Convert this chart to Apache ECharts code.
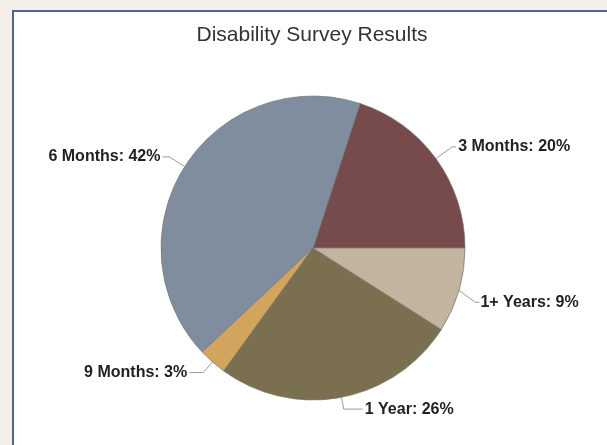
<!DOCTYPE html>
<html>
<head>
<meta charset="utf-8">
<script src="https://cdn.jsdelivr.net/npm/echarts@6/dist/echarts.min.js"></script>
<style>
  html, body { margin: 0; padding: 0; background: #f3f0ec; }
  #chart { width: 607px; height: 445px; }
</style>
</head>
<body>
<div id="chart"></div>
<script>
const CATEGORIES = ['3 Months', '6 Months', '9 Months', '1 Year', '1+ Years']
const PERCENTS = [20, 42, 3, 26, 9]
const SLICE_COLORS = ['#774a4b', '#7f8d9f', '#d3a45c', '#7a7050', '#c3b4a0']
// leader line lengths per slice: [radial part, horizontal part]
const LEADERS = [[20, 4], [18, 7], [14, 14], [12, 19], [14, 6]]
// extra downward nudge of a label (px), leader is redrawn to follow it
const LABEL_DROP = [0, 0, 0, 0, 8]

const chart = echarts.init(document.getElementById('chart'))

chart.setOption({
  animation: false,
  graphic: [
    {
      type: 'rect',
      z: -10,
      shape: { x: 13, y: 11, width: 620, height: 460 },
      style: { fill: '#ffffff', stroke: '#4b6a8b', lineWidth: 2 }
    }
  ],
  title: {
    text: 'Disability Survey Results',
    left: 312,
    top: 25,
    padding: 0,
    textAlign: 'center',
    textStyle: {
      fontFamily: 'Liberation Sans, Arial, sans-serif',
      fontSize: 21,
      fontWeight: 'normal',
      color: '#333333'
    }
  },
  series: [
    {
      type: 'pie',
      center: [313, 248],
      radius: 152,
      startAngle: 0,
      clockwise: false,
      avoidLabelOverlap: false,
      itemStyle: { borderColor: '#767676', borderWidth: 0.7 },
      label: {
        show: true,
        position: 'outside',
        formatter: '{b}: {c}%',
        fontFamily: 'Liberation Sans, Arial, sans-serif',
        fontSize: 16,
        fontWeight: 'bold',
        color: '#222222',
        distanceToLabelLine: 2
      },
      labelLine: {
        show: true,
        lineStyle: { color: '#9a9a9a', width: 1 }
      },
      labelLayout: (params) => {
        const drop = LABEL_DROP[params.dataIndex]
        if (!drop || !params.labelLinePoints) return {}
        const start = params.labelLinePoints[0]
        const r = params.labelRect
        const endY = r.y + r.height / 2 + drop
        return {
          dy: drop,
          labelLinePoints: [start, [r.x - 5, endY], [r.x - 1, endY]]
        }
      },
      data: CATEGORIES.map((name, i) => ({
        name,
        value: PERCENTS[i],
        itemStyle: { color: SLICE_COLORS[i] },
        labelLine: { length: LEADERS[i][0], length2: LEADERS[i][1] }
      }))
    }
  ]
})
</script>
</body>
</html>
